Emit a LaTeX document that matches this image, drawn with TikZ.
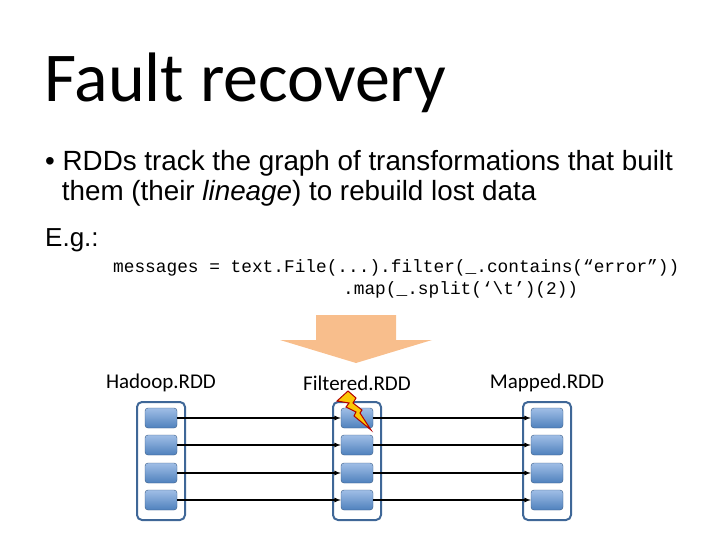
\documentclass[tikz,border=0pt]{standalone}
\usepackage{fontspec}
\setmainfont{Liberation Sans}
\newfontfamily\calib{Carlito}
\setmonofont{Liberation Mono}
\usetikzlibrary{calc}
\usetikzlibrary{positioning}
\definecolor{partblue}{RGB}{79,129,189}
\definecolor{partlight}{RGB}{160,190,230}
\definecolor{bigarrow}{RGB}{248,190,140}
\tikzstyle{rddbox} = [draw=partblue!80!black, line width=2pt, rounded corners=5pt, minimum width=48pt, minimum height=118pt]
\tikzstyle{partnode} = [draw=partblue!70!black, rounded corners=3pt, top color=partlight, bottom color=partblue, minimum width=32pt, minimum height=20pt, inner sep=0pt]
\tikzstyle{rddlabel} = [font=\calib\fontsize{21}{21}\selectfont]
\tikzstyle{dep} = [-latex, line width=1.2pt]
\begin{document}
\begin{tikzpicture}[x=1pt,y=-1pt]
\useasboundingbox (0,0) rectangle (720,540);
\node[anchor=base west, inner sep=0pt, font=\calib\fontsize{70}{70}\selectfont] (title) at (44,102) {Fault recovery};
\node[anchor=base west, inner sep=0pt, align=left, font=\fontsize{27.8}{30}\selectfont] (bullet) at (45,201)
  {\textbullet\ RDDs track the graph of transformations that built\\
   \hspace{0.6em}them (their \textit{lineage}) to rebuild lost data};
\node[anchor=base west, inner sep=0pt, font=\fontsize{26}{26}\selectfont] (eg) at (45,246) {E.g.:};
\node[anchor=base west, inner sep=0pt, font=\ttfamily\fontsize{17.8}{17.8}\selectfont] (code1) at (113,272)
  {messages = text.File(...).filter(\_.contains(“error”))};
\node[anchor=base west, inner sep=0pt, font=\ttfamily\fontsize{17.8}{17.8}\selectfont] (code2) at (343,294)
  {.map(\_.split(‘\textbackslash t’)(2))};
% big arrow
\fill[bigarrow] (316,315) -- (396,315) -- (396,340) -- (432,340) -- (356,363) -- (280,340) -- (316,340) -- cycle;
% RDD columns
\foreach \name/\x/\lab in {hadoop/161/Hadoop.RDD, filtered/357/Filtered.RDD, mapped/547/Mapped.RDD}{
  \node[rddbox] (\name) at (\x,461) {};
  \node[rddlabel] (\name-lab) at (\x,383) {\lab};
  \foreach \i/\y in {1/418,2/445,3/473,4/500}
    \node[partnode] (\name-\i) at (\x,\y) {};
}
\foreach \i in {1,...,4}{
  \draw[dep] (hadoop-\i) -- (filtered-\i);
  \draw[dep] (filtered-\i) -- (mapped-\i);
}
% lightning
\filldraw[fill=yellow!60!orange, draw=red!70!black, line width=1pt]
  (337,401) -- (348,391) -- (356,398) -- (353,403) -- (362,410) -- (360,413) -- (371,430) -- (354,416) -- (356,412) -- (346,407) -- (349,403) -- cycle;
\end{tikzpicture}
\end{document}
